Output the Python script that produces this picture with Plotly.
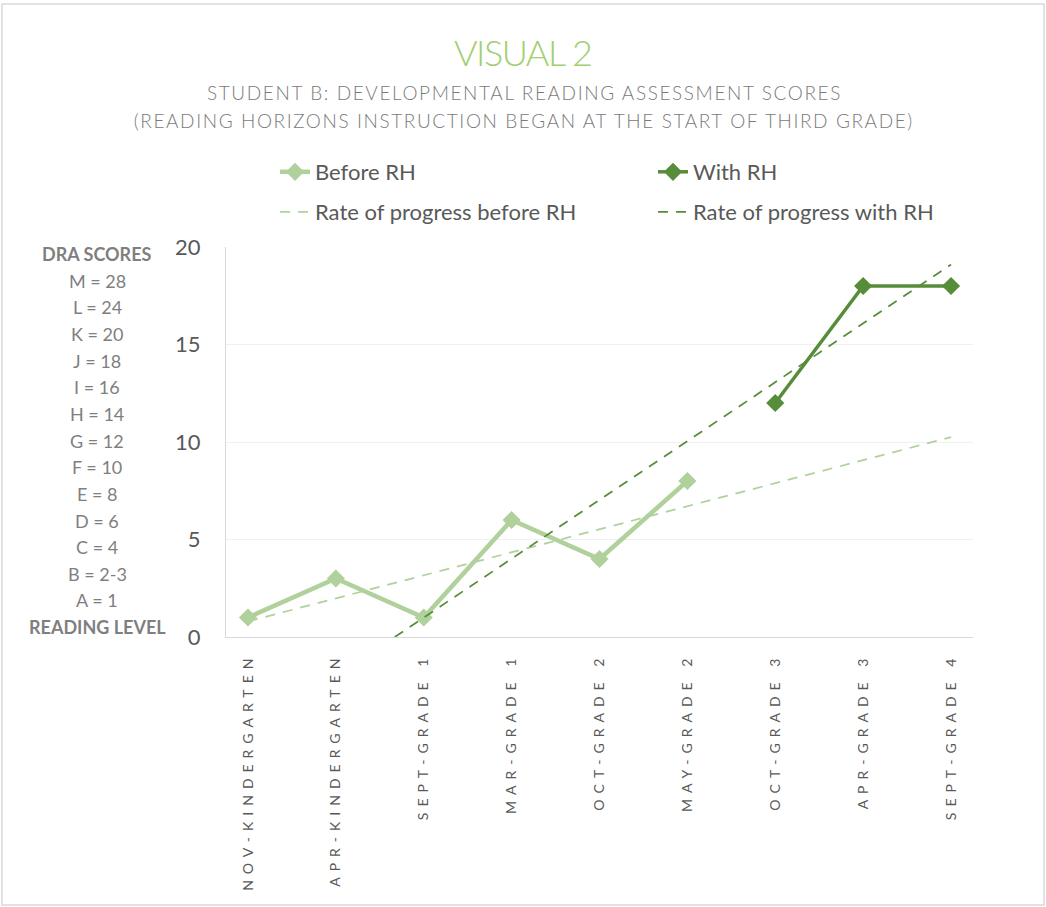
import plotly.graph_objects as go

categories = ["NOV-KINDERGARTEN", "APR-KINDERGARTEN", "SEPT-GRADE 1", "MAR-GRADE 1",
              "OCT-GRADE 2", "MAY-GRADE 2", "OCT-GRADE 3", "APR-GRADE 3", "SEPT-GRADE 4"]
cat_pos = [1, 2, 3, 4, 5, 6, 7, 8, 9]

before_x = [1, 2, 3, 4, 5, 6]
before_y = [1, 3, 1, 6, 4, 8]
with_x = [7, 8, 9]
with_y = [12, 18, 18]

before_trend_x = [1, 9]
before_trend_y = [0.8, 10.25]
with_trend_x = [2.67, 9]
with_trend_y = [0.0, 19.1]

dra_labels = ["<b>DRA SCORES</b>", "M = 28", "L = 24", "K = 20", "J = 18", "I = 16", "H = 14",
              "G = 12", "F = 10", "E = 8", "D = 6", "C = 4", "B = 2-3", "A = 1", "<b>READING LEVEL</b>"]

LIGHT = "#b0d19c"
DARK = "#578c38"
FONT = "Lato"

# layout geometry (pixels)
W, H = 1046, 907
L, R, T, B = 226, 1046 - 973, 247, 907 - 637
PW, PH = W - L - R, H - T - B

def px_x(p):
    return (p - L) / PW

def px_y(p):
    return (H - B - p) / PH

fig = go.Figure()
fig.add_trace(go.Scatter(x=before_x, y=before_y, mode="lines+markers", name="Before RH",
                         line=dict(color=LIGHT, width=4.5),
                         marker=dict(symbol="diamond", size=14, color=LIGHT), legend="legend"))
fig.add_trace(go.Scatter(x=with_x, y=with_y, mode="lines+markers", name="With RH",
                         line=dict(color=DARK, width=3.5),
                         marker=dict(symbol="diamond", size=14, color=DARK), legend="legend2"))
fig.add_trace(go.Scatter(x=before_trend_x, y=before_trend_y, mode="lines", name="Rate of progress before RH",
                         line=dict(color=LIGHT, width=1.75, dash="10px,8px"), legend="legend3"))
fig.add_trace(go.Scatter(x=with_trend_x, y=with_trend_y, mode="lines", name="Rate of progress with RH",
                         line=dict(color=DARK, width=1.75, dash="10px,8px"), legend="legend4"))

annotations = [
    dict(text="VISUAL 2", x=px_x(522), y=px_y(52), xref="paper", yref="paper", showarrow=False,
         xanchor="center", yanchor="middle",
         font=dict(family=FONT, size=36, color="#9fcf6f", weight=300)),
    dict(text="STUDENT B: DEVELOPMENTAL READING ASSESSMENT SCORES", x=px_x(524), y=px_y(92),
         xref="paper", yref="paper", showarrow=False, xanchor="center", yanchor="middle",
         font=dict(family=FONT, size=19, color="#7a7a7a", weight=300)),
    dict(text="(READING HORIZONS INSTRUCTION BEGAN AT THE START OF THIRD GRADE)", x=px_x(524), y=px_y(120),
         xref="paper", yref="paper", showarrow=False, xanchor="center", yanchor="middle",
         font=dict(family=FONT, size=19, color="#7a7a7a", weight=300)),
]
for i, lab in enumerate(dra_labels):
    annotations.append(dict(text=lab, x=px_x(97), y=px_y(254 + i * 26.65), xref="paper", yref="paper",
                            showarrow=False, xanchor="center", yanchor="middle",
                            font=dict(family=FONT, size=18, color="#7f7f7f")))

LEG_FONT = dict(family=FONT, size=22, color="#595959")

def leg(xpx, ypx):
    return dict(orientation="h", x=px_x(xpx), y=px_y(ypx), xanchor="left", yanchor="middle",
                font=LEG_FONT, bgcolor="rgba(0,0,0,0)")

fig.update_layout(
    width=W, height=H,
    showlegend=True,
    margin=dict(l=L, r=R, t=T, b=B, autoexpand=False),
    paper_bgcolor="white", plot_bgcolor="white",
    font=dict(family=FONT, color="#595959"),
    annotations=annotations,
    legend=leg(275, 172),
    legend2=leg(653, 172),
    legend3=leg(275, 212),
    legend4=leg(653, 212),
    shapes=[dict(type="rect", xref="paper", yref="paper",
                 x0=px_x(2), x1=px_x(1044), y0=px_y(905), y1=px_y(4),
                 line=dict(color="#d9d9d9", width=1.5), layer="below")],
    xaxis=dict(range=[0.75, 9.25], tickmode="array", tickvals=cat_pos, ticktext=categories,
               tickangle=-90, showgrid=False, zeroline=False, showline=True, linecolor="#d9d9d9",
               linewidth=1, ticks="", ticklabelstandoff=9,
               tickfont=dict(family=FONT, size=14, color="#595959")),
    yaxis=dict(range=[0, 20], dtick=5, showgrid=True, gridcolor="#f0f0f0", gridwidth=1,
               zeroline=False, showline=True, linecolor="#d9d9d9", linewidth=1, ticks="",
               ticklabelstandoff=20, tickfont=dict(family=FONT, size=22, color="#595959")),
)

post = """
document.body.style.margin='0';
var gd = document.getElementById('{plot_id}');
function sp(){
  gd.querySelectorAll('.xtick text').forEach(function(t){ t.style.letterSpacing='6px'; });
  gd.querySelectorAll('.annotation-text').forEach(function(t){
    var s = t.textContent || '';
    if (s.indexOf('STUDENT') === 0 || s.indexOf('(READING') === 0) { t.style.letterSpacing='1.6px'; }
    if (s.indexOf('VISUAL') === 0) { t.style.letterSpacing='-1.5px'; }
  });
}
sp();
gd.on('plotly_afterplot', sp);
"""
fig.write_html("out.html", post_script=post, config={"displayModeBar": False})
